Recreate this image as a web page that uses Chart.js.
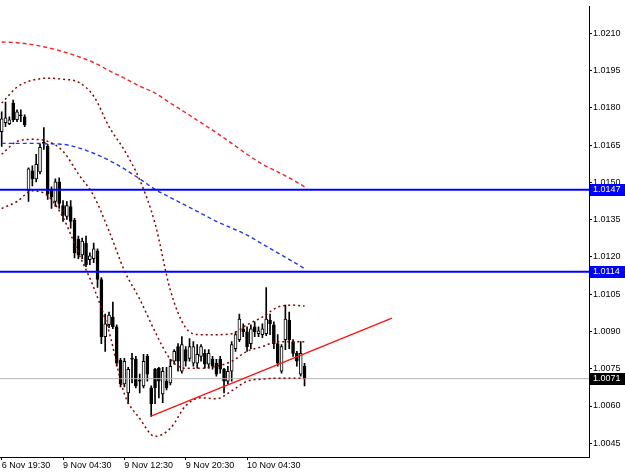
<!DOCTYPE html>
<html><head><meta charset="utf-8">
<script src="https://cdn.jsdelivr.net/npm/chart.js@4.4.0/dist/chart.umd.min.js"></script>
<style>html,body{margin:0;padding:0;background:#fff;overflow:hidden}</style>
</head><body>
<canvas id="c" width="625" height="474"></canvas>
<script>
// ---- data (M30 candles) ----
const opens = [1.01704,1.01740,1.01736,1.01819,1.01752,1.01772,1.01764,
1.01466,1.01546,1.01514,1.01542,1.01661,1.01645,1.01470,1.01423,1.01502,
1.01407,1.01363,1.01403,1.01347,1.01272,1.01208,1.01256,1.01189,1.01193,
1.01224,1.01109,1.00879,1.00927,1.00958,1.00919,1.00784,1.00689,1.00653,
1.00792,1.00788,1.00704,1.00681,1.00800,1.00673,1.00748,1.00752,1.00649,
1.00700,1.00693,1.00780,1.00839,1.00740,1.00827,1.00792,1.00772,1.00772,
1.00800,1.00812,1.00768,1.00788,1.00772,1.00788,1.00748,1.00700,1.00740,
1.00831,1.00867,1.00911,1.00899,1.00851,1.00919,1.00891,1.00887,1.00891,
1.00946,1.00927,1.00851,1.00740,1.00867,1.00946,1.00859,1.00812,1.00728,1.00760];
const highs = [1.01784,1.01823,1.01764,1.01831,1.01792,1.01792,1.01772,
1.01558,1.01566,1.01613,1.01653,1.01720,1.01653,1.01482,1.01514,1.01518,
1.01427,1.01423,1.01427,1.01355,1.01284,1.01276,1.01284,1.01216,1.01256,
1.01232,1.01117,1.00970,1.00978,1.01018,1.00927,1.00792,1.00792,1.00756,
1.00812,1.00800,1.00728,1.00808,1.00808,1.00681,1.00752,1.00756,1.00756,
1.00756,1.00788,1.00827,1.00851,1.00879,1.00839,1.00871,1.00859,1.00847,
1.00847,1.00827,1.00827,1.00800,1.00788,1.00800,1.00752,1.00760,1.00859,
1.00899,1.00970,1.00931,1.00919,1.00927,1.00939,1.00919,1.00931,1.01077,
1.00970,1.00939,1.00887,1.00847,1.01006,1.00978,1.00867,1.00820,1.00859,1.00772];
const lows = [1.01645,1.01724,1.01732,1.01744,1.01744,1.01744,1.01724,
1.01423,1.01486,1.01502,1.01534,1.01633,1.01431,1.01395,1.01403,1.01395,
1.01343,1.01351,1.01316,1.01196,1.01193,1.01193,1.01161,1.01169,1.01177,
1.01077,1.00851,1.00820,1.00915,1.00911,1.00760,1.00677,1.00677,1.00609,
1.00693,1.00673,1.00653,1.00673,1.00700,1.00558,1.00609,1.00633,1.00613,
1.00665,1.00685,1.00768,1.00740,1.00732,1.00760,1.00780,1.00760,1.00752,
1.00780,1.00752,1.00752,1.00748,1.00720,1.00732,1.00653,1.00689,1.00700,
1.00820,1.00859,1.00879,1.00820,1.00831,1.00879,1.00879,1.00875,1.00883,
1.00887,1.00831,1.00760,1.00732,1.00827,1.00831,1.00800,1.00760,1.00720,1.00681];
const closes = [1.01756,1.01760,1.01752,1.01752,1.01784,1.01768,1.01732,
1.01554,1.01514,1.01573,1.01641,1.01657,1.01454,1.01442,1.01502,1.01415,
1.01367,1.01407,1.01343,1.01216,1.01208,1.01264,1.01169,1.01204,1.01232,
1.01109,1.00879,1.00931,1.00966,1.00919,1.00772,1.00689,1.00780,1.00748,
1.00788,1.00681,1.00700,1.00780,1.00728,1.00609,1.00673,1.00700,1.00740,
1.00673,1.00760,1.00820,1.00780,1.00847,1.00780,1.00839,1.00839,1.00808,
1.00839,1.00768,1.00812,1.00760,1.00728,1.00748,1.00700,1.00740,1.00847,
1.00887,1.00950,1.00899,1.00839,1.00911,1.00899,1.00903,1.00911,1.00950,
1.00931,1.00851,1.00772,1.00839,1.00950,1.00867,1.00812,1.00780,1.00812,1.00710];

const timeTickIndex = [0,16,32,48,64];
const timeTickLabels = ['6 Nov 19:30','9 Nov 04:30','9 Nov 12:30','9 Nov 20:30','10 Nov 04:30'];
const priceTicks = [1.0045,1.0060,1.0075,1.0090,1.0105,1.0120,1.0135,1.0150,1.0165,1.0180,1.0195,1.0210];

const lineIndex = [0,4,8,12,16,20,24,28,32,36,40,44,48,52,56,60,64,68,72,76,79];
const maBlue = [1.01657,1.01657,1.01657,1.01655,1.01653,1.01639,1.01617,1.01589,1.01554,1.01514,1.01472,1.01439,1.01407,1.01375,1.01343,1.01316,1.01288,1.01252,1.01216,1.01181,1.01153];
const maRed = [1.02065,1.02062,1.02054,1.02042,1.02026,1.02006,1.01982,1.01950,1.01919,1.01887,1.01859,1.01819,1.01780,1.01740,1.01700,1.01657,1.01613,1.01573,1.01542,1.01510,1.01482];
const bbUpper = [1.01819,1.01883,1.01911,1.01919,1.01915,1.01903,1.01847,1.01724,1.01629,1.01510,1.01335,1.01066,1.00915,1.00887,1.00887,1.00891,1.00927,1.00958,1.00998,1.01006,1.01002];
const bbMiddle = [1.01613,1.01665,1.01673,1.01665,1.01625,1.01534,1.01446,1.01304,1.01145,1.01030,1.00899,1.00788,1.00752,1.00752,1.00760,1.00780,1.00820,1.00839,1.00859,1.00859,1.00859];
const bbLower = [1.01395,1.01423,1.01466,1.01446,1.01359,1.01216,1.01077,1.00899,1.00649,1.00550,1.00478,1.00510,1.00601,1.00633,1.00629,1.00661,1.00700,1.00708,1.00712,1.00712,1.00712];

const trendX = [38.8, 101.8];
const trendY = [1.00558, 1.00954];
const levels = [1.0147, 1.0114];
const bidPrice = closes[closes.length-1];

// ---- build datasets ----
const idx = opens.map((_, i) => i);
const pts = (xs, ys) => xs.map((x, i) => ({x, y: ys[i]}));
const hline = v => [{x:-5, y:v}, {x:200, y:v}];
const lineDs = (data, color, dash, width, order) => ({
  type:'line', data, borderColor:color, borderWidth:width, borderDash:dash,
  pointRadius:0, fill:false, cubicInterpolationMode:'monotone', order
});

const datasets = [
  {type:'bar', data: idx.map(i => ({x:i, y:[lows[i], highs[i]]})), backgroundColor:'#000',
   barThickness:1, grouped:false, order:20},
  {type:'bar', data: idx.map(i => ({x:i, y:[Math.min(opens[i],closes[i]), Math.max(opens[i],closes[i])]})),
   backgroundColor: idx.map(i => closes[i] > opens[i] ? '#ffffff' : '#000000'),
   borderColor:'#000', borderWidth:1, borderSkipped:false, barThickness:3, grouped:false, order:19},
  lineDs(pts(lineIndex, maRed), '#ff2020', [4,3], 1.4, 5),
  lineDs(pts(lineIndex, maBlue), '#2236ff', [4,3], 1.4, 5),
  lineDs(pts(lineIndex, bbUpper), '#8b0000', [2,3], 1.5, 4),
  lineDs(pts(lineIndex, bbMiddle), '#8b0000', [2,3], 1.5, 4),
  lineDs(pts(lineIndex, bbLower), '#8b0000', [2,3], 1.5, 4),
  {type:'line', data: pts(trendX, trendY), borderColor:'#ff1010', borderWidth:1.3, pointRadius:0, order:3},
  {type:'line', data: hline(levels[0]), borderColor:'#0000ff', borderWidth:2, pointRadius:0, order:2},
  {type:'line', data: hline(levels[1]), borderColor:'#0000ff', borderWidth:2, pointRadius:0, order:2},
  {type:'line', data: hline(bidPrice), borderColor:'#b4b4b4', borderWidth:1, pointRadius:0, order:6}
];

const FONT = {family:'"Liberation Sans", Arial, sans-serif', size:9};

const bgPlugin = {id:'bg', beforeDraw(chart){const c=chart.ctx;c.save();c.fillStyle='#fff';c.fillRect(0,0,chart.width,chart.height);c.restore();}};
const boxPlugin = {id:'boxes', afterDraw(chart){
  const ctx = chart.ctx, ys = chart.scales.y, ca = chart.chartArea;
  const items = [{v:levels[0], bg:'#0000ff'}, {v:levels[1], bg:'#0000ff'}, {v:bidPrice, bg:'#000000'}];
  ctx.save();
  ctx.font = '9px "Liberation Sans", Arial, sans-serif';
  ctx.textBaseline = 'middle';
  items.forEach(it => {
    const py = Math.round(ys.getPixelForValue(it.v));
    ctx.fillStyle = it.bg;
    ctx.fillRect(ca.right + 1, py - 6, 40, 12);
    ctx.fillStyle = '#fff';
    ctx.fillText(it.v.toFixed(4), ca.right + 4, py);
  });
  ctx.restore();
}};

new Chart(document.getElementById('c'), {
  type:'bar',
  data:{datasets},
  options:{
    responsive:false, animation:false,
    layout:{padding:0},
    plugins:{legend:{display:false}, tooltip:{enabled:false}},
    scales:{
      x:{type:'linear', position:'bottom', min:-0.44, max:153.2, offset:false,
         afterBuildTicks: s => { s.ticks = timeTickIndex.map(v => ({value:v})); },
         afterFit: s => { s.height = 17; },
         ticks:{autoSkip:false, maxRotation:0, align:'start', padding:0, color:'#000', font:FONT,
                callback: v => timeTickLabels[timeTickIndex.indexOf(v)]},
         grid:{drawOnChartArea:false, offset:false, tickLength:3, color:'#000'},
         border:{display:true, color:'#000', width:1}},
      y:{type:'linear', position:'right', min:1.0039484, max:1.02208,
         afterBuildTicks: s => { s.ticks = priceTicks.map(v => ({value:v})); },
         afterFit: s => { s.width = 36; },
         ticks:{autoSkip:false, padding:1, color:'#000', font:FONT, callback: v => v.toFixed(4)},
         grid:{drawOnChartArea:false, tickLength:3, color:'#000'},
         border:{display:true, color:'#000', width:1}}
    }
  },
  plugins:[bgPlugin, boxPlugin]
});
</script>
</body></html>
